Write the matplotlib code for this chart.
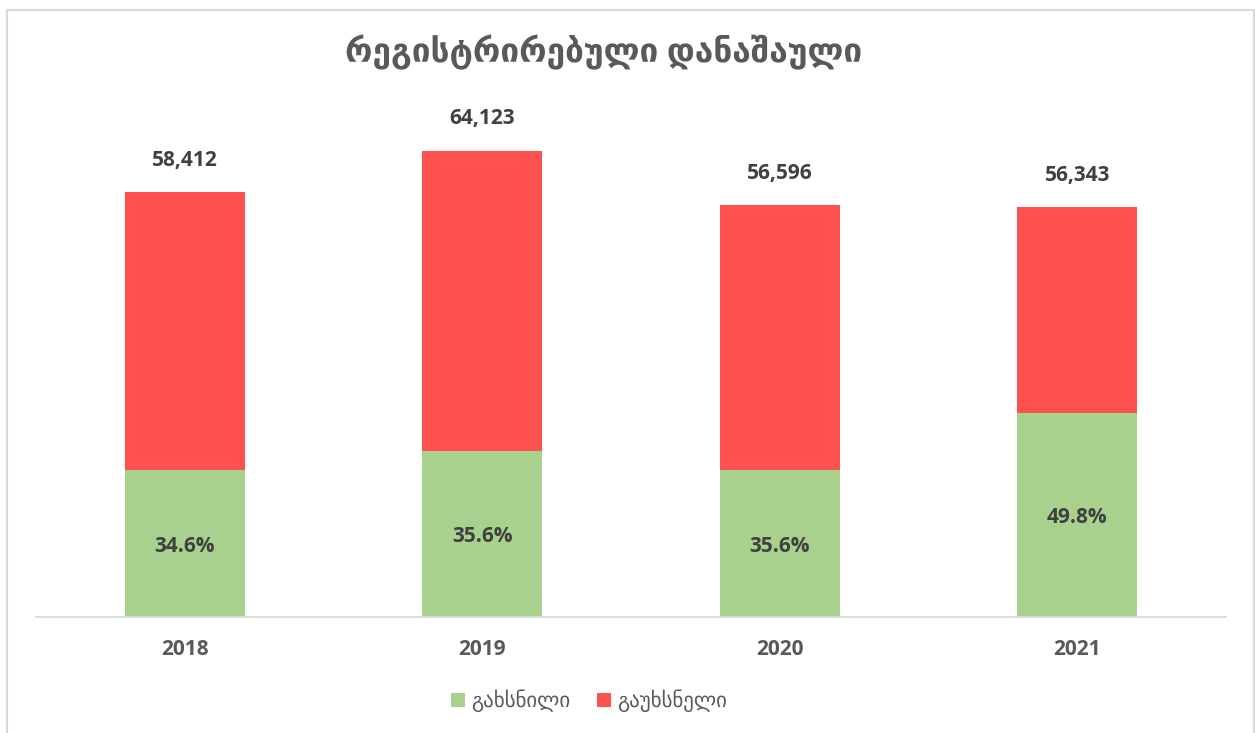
import matplotlib
matplotlib.use("Agg")
import matplotlib.pyplot as plt
from matplotlib.patches import Rectangle

plt.rcParams['font.family'] = ['Open Sans', 'DejaVu Sans']

years = ["2018", "2019", "2020", "2021"]
totals = [58412, 64123, 56596, 56343]
solved_pct = [34.6, 35.6, 35.6, 49.8]
title = "რეგისტრირებული დანაშაული"
legend_labels = ["გახსნილი", "გაუხსნელი"]

solved = [t * p / 100 for t, p in zip(totals, solved_pct)]
unsolved = [t - s for t, s in zip(totals, solved)]

GREEN = "#A9D18E"
RED = "#FF5050"
TXT = "#404040"
GRAY = "#595959"

W, H = 1255, 733
fig = plt.figure(figsize=(W / 100, H / 100), dpi=100)

# chart border
fig.patches.append(Rectangle((7 / W, -0.05), (1254 - 7) / W, 1 - 10 / H + 0.05,
                             transform=fig.transFigure, fill=False,
                             edgecolor="#D9D9D9", linewidth=1.5))

ax = fig.add_axes([36 / W, 1 - 616.7 / H, (1226 - 36) / W, 508.6 / H])
x = range(len(years))
width = 0.403
b1 = ax.bar(x, solved, width, color=GREEN, label=legend_labels[0])
b2 = ax.bar(x, unsolved, width, bottom=solved, color=RED, label=legend_labels[1])

ax.set_xlim(-0.5, 3.5)
ax.set_ylim(0, 70000)
ax.set_yticks([])
ax.set_xticks(list(x))
ax.set_xticklabels(years, fontsize=15, fontweight="bold", color=GRAY)
ax.tick_params(axis="x", length=0, pad=16)
for s in ["top", "right", "left"]:
    ax.spines[s].set_visible(False)
ax.spines["bottom"].set_color("#D9D9D9")
ax.spines["bottom"].set_linewidth(1.3)

for i in x:
    ax.annotate(f"{totals[i]:,}", (i, totals[i]), xytext=(0, 23),
                textcoords="offset points", ha="center", va="center",
                fontsize=15, fontweight="bold", color=TXT)
    ax.annotate(f"{solved_pct[i]:.1f}%", (i, solved[i] / 2), xytext=(0, -2),
                textcoords="offset points", ha="center", va="center",
                fontsize=15, fontweight="bold", color=TXT)

fig.text(604 / W, 1 - 53 / H, title, ha="center", va="center",
         fontsize=24, fontweight="bold", color=GRAY)

fig.legend(handles=[b1, b2], labels=legend_labels, loc="center",
           bbox_to_anchor=(589 / W, 1 - 701 / H), ncol=2, frameon=False,
           fontsize=15, labelcolor=GRAY, handlelength=0.65, handleheight=0.65,
           handletextpad=0.3, columnspacing=1.3)

fig.savefig("out.png", dpi=100)
